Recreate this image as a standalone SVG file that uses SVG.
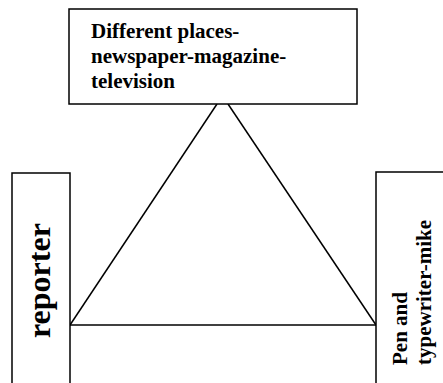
<svg xmlns="http://www.w3.org/2000/svg" width="443" height="383" viewBox="0 0 443 383">
<style>
.box{fill:#fff;stroke:#000;stroke-width:1.5}
.ln{stroke:#000;stroke-width:1.5;fill:none}
.t{font-family:"Liberation Serif","Times New Roman",serif;font-weight:bold;fill:#000}
</style>
<rect width="443" height="383" fill="#fff"/>
<g id="connectors">
<line class="ln" x1="217" y1="104" x2="70" y2="325"/>
<line class="ln" x1="228" y1="104" x2="376" y2="325"/>
<line class="ln" x1="70" y1="325" x2="376" y2="325"/>
</g>
<g id="node-top">
<rect class="box" x="69" y="9" width="288" height="95"/>
<text class="t" font-size="21"><tspan x="91" y="38">Different places-</tspan><tspan x="91" y="63">newspaper-magazine-</tspan><tspan x="91" y="88">television</tspan></text>
</g>
<g id="node-reporter">
<rect class="box" x="12" y="173" width="58" height="220"/>
<text class="t" font-size="32" transform="translate(50,338) rotate(-90)">reporter</text>
</g>
<g id="node-pen">
<rect class="box" x="376" y="172" width="80" height="220"/>
<text class="t" font-size="21" transform="translate(407,365) rotate(-90)"><tspan x="0" y="0">Pen and</tspan><tspan x="0" y="24">typewriter-mike</tspan></text>
</g>
</svg>
